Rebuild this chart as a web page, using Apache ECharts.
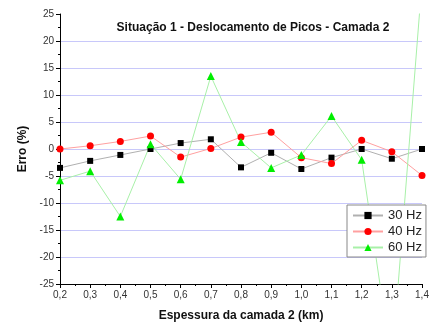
<!DOCTYPE html>
<html><head><meta charset="utf-8">
<script src="https://cdn.jsdelivr.net/npm/echarts@6/dist/echarts.min.js"></script>
<style>html,body{margin:0;padding:0;background:#fff}#c{width:432px;height:331px}</style>
</head><body><div id="c"></div>
<script>
const thickness = [0.2,0.3,0.4,0.5,0.6,0.7,0.8,0.9,1.0,1.1,1.2,1.3,1.4];
const hz30 = [-3.5,-2.2,-1.1,0.0,1.1,1.8,-3.4,-0.7,-3.7,-1.6,0.0,-1.8,0.0];
const hz40 = [0.0,0.6,1.4,2.4,-1.5,0.1,2.2,3.1,-1.6,-2.7,1.6,-0.5,-4.9];
const hz60 = [-5.8,-4.1,-12.5,0.9,-5.6,13.5,1.3,-3.5,-1.1,6.1,-2.0,-40,31];
const seriesNames = ['30 Hz','40 Hz','60 Hz'];
const titleText = 'Situação 1 - Deslocamento de Picos - Camada 2';
const xName = 'Espessura da camada 2 (km)';
const yName = 'Erro (%)';

const pair = arr => thickness.map((x,i)=>[x,arr[i]]);
const chart = echarts.init(document.getElementById('c'), null, {renderer:'canvas'});
const font = 'Arial, "Liberation Sans", sans-serif';
chart.setOption({
  animation:false,
  backgroundColor:'#fff',
  title:{text:titleText,left:248,top:17,textAlign:'center',
    textStyle:{fontFamily:font,fontSize:12,fontWeight:'bold',color:'#111'}},
  grid:{left:60,right:10,top:14,bottom:47,containLabel:false},
  legend:{
    orient:'vertical',left:347,top:205,
    backgroundColor:'#fff',borderColor:'#888',borderWidth:1,borderRadius:0,
    padding:[4,4,3,5],itemGap:3,itemWidth:30,itemHeight:9,
    textStyle:{fontFamily:font,fontSize:13,color:'#222'},
    data:seriesNames
  },
  xAxis:{
    type:'value',min:0.2,max:1.4,interval:0.1,
    name:xName,nameLocation:'middle',nameGap:26,
    nameTextStyle:{fontFamily:font,fontSize:12,fontWeight:'bold',color:'#111'},
    axisLine:{onZero:false,lineStyle:{color:'#000',width:1}},
    axisTick:{show:true,inside:false,length:4,lineStyle:{color:'#000'}},
    minorTick:{show:true,splitNumber:2,length:2,lineStyle:{color:'#000'}},
    axisLabel:{fontFamily:font,fontSize:10,color:'#333',margin:6,
      formatter:v=>v.toFixed(1).replace('.',',')},
    splitLine:{show:false}
  },
  yAxis:{
    type:'value',min:-25,max:25,interval:5,
    name:yName,nameLocation:'middle',nameGap:30,nameRotate:90,
    nameTextStyle:{fontFamily:font,fontSize:12,fontWeight:'bold',color:'#111'},
    axisLine:{show:true,lineStyle:{color:'#000',width:1}},
    axisTick:{show:true,inside:false,length:4,lineStyle:{color:'#000'}},
    minorTick:{show:true,splitNumber:2,length:2,lineStyle:{color:'#000'}},
    axisLabel:{fontFamily:font,fontSize:10,color:'#333',margin:6},
    splitLine:{show:true,showMinLine:false,showMaxLine:false,lineStyle:{color:'#c8c8fa',width:1}}
  },
  series:[
    {name:seriesNames[0],type:'line',data:pair(hz30),symbol:'rect',symbolSize:6,
      itemStyle:{color:'#000'},lineStyle:{color:'#b0b0b0',width:1},clip:true},
    {name:seriesNames[1],type:'line',data:pair(hz40),symbol:'circle',symbolSize:7,
      itemStyle:{color:'#ff0000'},lineStyle:{color:'#ffa0a0',width:1},clip:true},
    {name:seriesNames[2],type:'line',data:pair(hz60),symbol:'triangle',symbolSize:8,
      itemStyle:{color:'#00ee00'},lineStyle:{color:'#a8f0a8',width:1},clip:true}
  ]
});
</script></body></html>
